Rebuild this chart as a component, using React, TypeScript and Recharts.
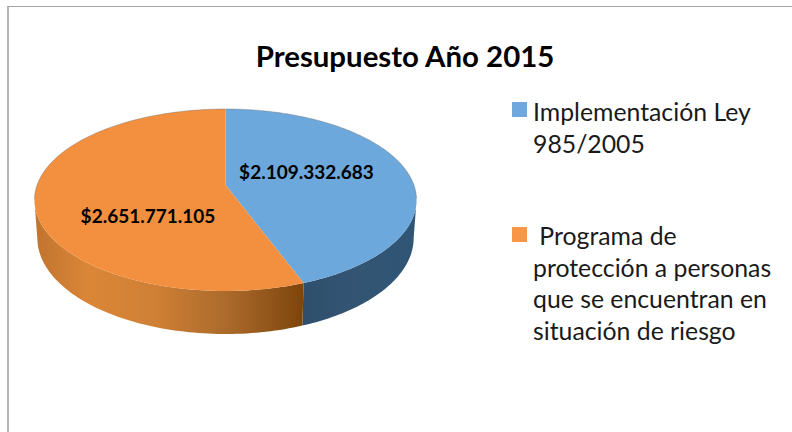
import React from "react";
import { PieChart, Pie, Legend } from "recharts";

const categories = ["Implementación Ley 985/2005", " Programa de protección a personas que se encuentran en situación de riesgo"];
const legendLines = [
  ["Implementación Ley", "985/2005"],
  ["\u00a0Programa de", "protección a personas", "que se encuentran en", "situación de riesgo"],
];
const values = [2109332683, 2651771105];
const valueLabels = ["$2.109.332.683", "$2.651.771.105"];
const topColors = ["#6CA8DC", "#F2903F"];
const swatchColors = ["#6FA8DC", "#F79646"];
const title = "Presupuesto Año 2015";

const data = categories.map((name, i) => ({ name, value: values[i], fill: topColors[i], idx: i }));

const FONT = "Lato, Carlito, 'Open Sans', sans-serif";
const K = 0.165;
const RY = 88.5;
const RX = 188.4;
const DEPTH = 43;
const labelCentres = [
  { x: 306.5, y: 171 },
  { x: 148, y: 215 },
];
const legendTops = [96, 220];
const swatchOffsets = [6, 7];

// tilted-disc projection of a point on the unit circle, angle in degrees as the Pie gives it
function project(cx: number, cy: number, deg: number) {
  const a = (deg * Math.PI) / 180;
  const u = Math.cos(a);
  const v = -Math.sin(a);
  const d = 1 - K * v;
  return { x: cx + (RX * u) / d, y: cy + (RY * v) / d, v };
}

function PseudoSector(props: any) {
  const { cx, cy, startAngle, endAngle, fill } = props;
  const idx = props.idx ?? props.payload?.idx ?? 0;
  const steps = 160;
  const pts: { x: number; y: number; v: number }[] = [];
  for (let i = 0; i <= steps; i++) pts.push(project(cx, cy, startAngle + ((endAngle - startAngle) * i) / steps));
  const top = `M${cx},${cy} ` + pts.map((p) => `L${p.x.toFixed(2)},${p.y.toFixed(2)}`).join(" ") + " Z";
  const front = pts.filter((p) => p.v >= K - 0.002);
  const backRuns = pts.filter((p) => p.v < K - 0.002);
  const low = (p: { x: number; y: number }) => ({
    x: cx + (p.x - cx) * 0.985,
    y: p.y + DEPTH - Math.max(0, 1 - (p.y - cy - 15) / 91) * 5,
  });
  const wall =
    front.map((p, i) => `${i ? "L" : "M"}${p.x.toFixed(2)},${p.y.toFixed(2)}`).join(" ") +
    " " +
    [...front].reverse().map((p) => { const q = low(p); return `L${q.x.toFixed(2)},${q.y.toFixed(2)}`; }).join(" ") +
    " Z";
  const gid = `wall-${idx}`;
  return (
    <g>
      <defs>
        {idx === 0 ? (
          <linearGradient id={gid} gradientUnits="userSpaceOnUse" x1={301} x2={416} y1={0} y2={0}>
            <stop offset="0" stopColor="#2F4F6C" />
            <stop offset="0.5" stopColor="#335573" />
            <stop offset="1" stopColor="#2F5575" />
          </linearGradient>
        ) : (
          <linearGradient id={gid} gradientUnits="userSpaceOnUse" x1={35} x2={302} y1={0} y2={0}>
            <stop offset="0" stopColor="#C0742F" />
            <stop offset="0.2" stopColor="#DB8637" />
            <stop offset="0.45" stopColor="#CF8035" />
            <stop offset="0.72" stopColor="#AB6A2B" />
            <stop offset="0.92" stopColor="#8B5016" />
            <stop offset="1" stopColor="#7F4408" />
          </linearGradient>
        )}
      </defs>
      {front.length > 1 && <path d={wall} fill={`url(#${gid})`} stroke="none" />}
      <path d={top} fill={fill} stroke="none" />
      {backRuns.length > 1 && (
        <path
          d={backRuns.map((p, i) => `${i ? "L" : "M"}${p.x.toFixed(2)},${p.y.toFixed(2)}`).join(" ")}
          fill="none"
          stroke="#6b6b6b"
          strokeOpacity={0.4}
          strokeWidth={1}
        />
      )}
    </g>
  );
}

function renderLabel(props: any) {
  const i = props.index ?? 0;
  return (
    <text
      x={labelCentres[i].x}
      y={labelCentres[i].y}
      textAnchor="middle"
      dominantBaseline="central"
      fontFamily={FONT}
      fontWeight={700}
      fontSize={19}
      fill="#000"
    >
      {valueLabels[i]}
    </text>
  );
}

function LegendBox() {
  return (
    <div>
      {legendLines.map((lines, i) => (
        <div key={i} style={{ position: "absolute", left: 0, top: legendTops[i], width: 270 }}>
          <span
            style={{
              position: "absolute",
              left: 0,
              top: swatchOffsets[i],
              width: 15,
              height: 15,
              background: swatchColors[i],
            }}
          />
          <div style={{ marginLeft: 21, fontFamily: FONT, fontSize: 24.8, lineHeight: "31.7px", color: "#1a1a1a", whiteSpace: "pre" }}>
            {lines.map((l, j) => (
              <div key={j}>{l}</div>
            ))}
          </div>
        </div>
      ))}
    </div>
  );
}

export default function App() {
  return (
    <div style={{ position: "absolute", left: 0, top: 0, width: 792, height: 432, background: "#fff", overflow: "hidden" }}>
      <div
        style={{
          position: "absolute",
          left: 7,
          top: 6,
          width: 800,
          height: 440,
          borderTop: "1px solid #A6A6A6",
          borderLeft: "2px solid #B4B4B4",
          boxSizing: "border-box",
        }}
      />
      <PieChart width={792} height={432} margin={{ top: 0, right: 0, bottom: 0, left: 0 }} style={{ position: "absolute", left: 0, top: 0 }}>
        <text x={405} y={55} textAnchor="middle" dominantBaseline="central" fontFamily={FONT} fontWeight={700} fontSize={29.4} fill="#000">
          {title}
        </text>
        <Pie
          data={data}
          dataKey="value"
          nameKey="name"
          cx={225.5}
          cy={185}
          outerRadius={188}
          startAngle={90}
          endAngle={-270}
          stroke="none"
          isAnimationActive={false}
          shape={PseudoSector}
          label={renderLabel}
          labelLine={false}
        />
        <Legend
          content={<LegendBox />}
          wrapperStyle={{ position: "absolute", left: 512, top: 0, width: 270, height: 0, margin: 0 }}
        />
      </PieChart>
    </div>
  );
}
